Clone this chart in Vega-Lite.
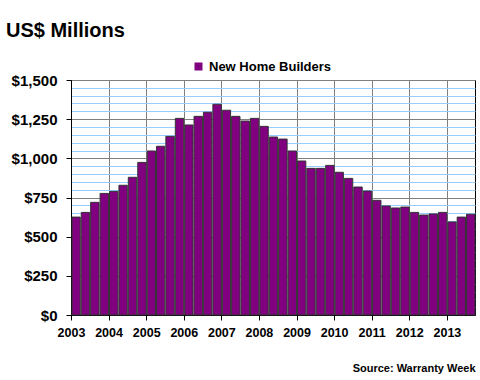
{
  "$schema": "https://vega.github.io/schema/vega-lite/v6.json",
  "width": 404,
  "height": 235,
  "autosize": {"type": "none"},
  "padding": {"left": 71, "top": 80, "right": 5, "bottom": 65},
  "background": "white",
  "config": {
    "font": "Liberation Sans",
    "view": {"stroke": "black", "strokeWidth": 1}
  },
  "title": {
    "text": "US$ Millions",
    "anchor": "start",
    "frame": "group",
    "fontSize": 20,
    "fontWeight": "bold",
    "color": "black",
    "dx": -65,
    "offset": 19
  },
  "data": {
    "values": [
      {"date": "2003-01-01", "value": 625},
      {"date": "2003-04-01", "value": 655},
      {"date": "2003-07-01", "value": 719},
      {"date": "2003-10-01", "value": 776},
      {"date": "2004-01-01", "value": 789},
      {"date": "2004-04-01", "value": 828},
      {"date": "2004-07-01", "value": 879},
      {"date": "2004-10-01", "value": 974},
      {"date": "2005-01-01", "value": 1047},
      {"date": "2005-04-01", "value": 1077},
      {"date": "2005-07-01", "value": 1140},
      {"date": "2005-10-01", "value": 1255},
      {"date": "2006-01-01", "value": 1213},
      {"date": "2006-04-01", "value": 1268},
      {"date": "2006-07-01", "value": 1294},
      {"date": "2006-10-01", "value": 1345},
      {"date": "2007-01-01", "value": 1307},
      {"date": "2007-04-01", "value": 1268},
      {"date": "2007-07-01", "value": 1238},
      {"date": "2007-10-01", "value": 1255},
      {"date": "2008-01-01", "value": 1204},
      {"date": "2008-04-01", "value": 1136},
      {"date": "2008-07-01", "value": 1123},
      {"date": "2008-10-01", "value": 1047},
      {"date": "2009-01-01", "value": 983},
      {"date": "2009-04-01", "value": 936},
      {"date": "2009-07-01", "value": 936},
      {"date": "2009-10-01", "value": 955},
      {"date": "2010-01-01", "value": 911},
      {"date": "2010-04-01", "value": 872},
      {"date": "2010-07-01", "value": 817},
      {"date": "2010-10-01", "value": 791},
      {"date": "2011-01-01", "value": 732},
      {"date": "2011-04-01", "value": 696},
      {"date": "2011-07-01", "value": 683},
      {"date": "2011-10-01", "value": 689},
      {"date": "2012-01-01", "value": 655},
      {"date": "2012-04-01", "value": 638},
      {"date": "2012-07-01", "value": 645},
      {"date": "2012-10-01", "value": 655},
      {"date": "2013-01-01", "value": 594},
      {"date": "2013-04-01", "value": 625},
      {"date": "2013-07-01", "value": 643}
    ]
  },
  "mark": {"type": "bar", "stroke": "#333333", "strokeWidth": 1, "timeUnitBandSize": 1, "timeUnitBandPosition": 0},
  "encoding": {
    "x": {
      "field": "date",
      "type": "temporal",
      "timeUnit": "utcyearquarter",
      "scale": {
        "type": "utc",
        "domain": [
          {"year": 2003, "month": 1, "date": 1, "utc": true},
          {"year": 2013, "month": 10, "date": 1, "utc": true}
        ]
      },
      "axis": {
        "values": [
          {"year": 2003, "month": 1, "date": 1, "utc": true},
          {"year": 2004, "month": 1, "date": 1, "utc": true},
          {"year": 2005, "month": 1, "date": 1, "utc": true},
          {"year": 2006, "month": 1, "date": 1, "utc": true},
          {"year": 2007, "month": 1, "date": 1, "utc": true},
          {"year": 2008, "month": 1, "date": 1, "utc": true},
          {"year": 2009, "month": 1, "date": 1, "utc": true},
          {"year": 2010, "month": 1, "date": 1, "utc": true},
          {"year": 2011, "month": 1, "date": 1, "utc": true},
          {"year": 2012, "month": 1, "date": 1, "utc": true},
          {"year": 2013, "month": 1, "date": 1, "utc": true}
        ],
        "labelExpr": "utcFormat(datum.value, '%Y')",
        "grid": true,
        "gridColor": "#808080",
        "gridWidth": 1,
        "domainColor": "black",
        "tickColor": "black",
        "tickSize": 5,
        "labelFontSize": 12.5,
        "labelFontWeight": "bold",
        "labelColor": "black",
        "labelPadding": 6,
        "labelFlush": false,
        "labelOverlap": false,
        "title": "Source: Warranty Week",
        "titleAnchor": "end",
        "titleFontSize": 11,
        "titleFontWeight": "bold",
        "titleColor": "black",
        "titlePadding": 24
      }
    },
    "y": {
      "field": "value",
      "type": "quantitative",
      "scale": {"domain": [0, 1500], "nice": false},
      "axis": {
        "values": [0, 50, 100, 150, 200, 250, 300, 350, 400, 450, 500, 550, 600, 650, 700, 750, 800, 850, 900, 950, 1000, 1050, 1100, 1150, 1200, 1250, 1300, 1350, 1400, 1450, 1500],
        "labelExpr": "datum.value % 250 === 0 ? '$' + format(datum.value, ',') : ''",
        "grid": true,
        "gridColor": {"condition": {"test": "datum.value % 250 === 0", "value": "#808080"}, "value": "#99CCFF"},
        "gridWidth": 1,
        "domainColor": "black",
        "tickColor": "black",
        "tickSize": 5,
        "tickOpacity": {"condition": {"test": "datum.value % 250 === 0", "value": 1}, "value": 0},
        "labelFontSize": 15,
        "labelFontWeight": "bold",
        "labelColor": "black",
        "labelPadding": 9,
        "labelOverlap": false,
        "labelFlush": false,
        "title": null
      }
    },
    "color": {
      "datum": "New Home Builders",
      "type": "nominal",
      "scale": {"range": ["#800080"]},
      "legend": {
        "orient": "none",
        "legendX": 121,
        "legendY": -20,
        "direction": "horizontal",
        "title": null,
        "padding": 0,
        "symbolType": "square",
        "symbolSize": 64,
        "symbolStrokeWidth": 0,
        "labelFontSize": 13,
        "labelFontWeight": "bold",
        "labelColor": "black",
        "labelOffset": 4
      }
    }
  }
}
